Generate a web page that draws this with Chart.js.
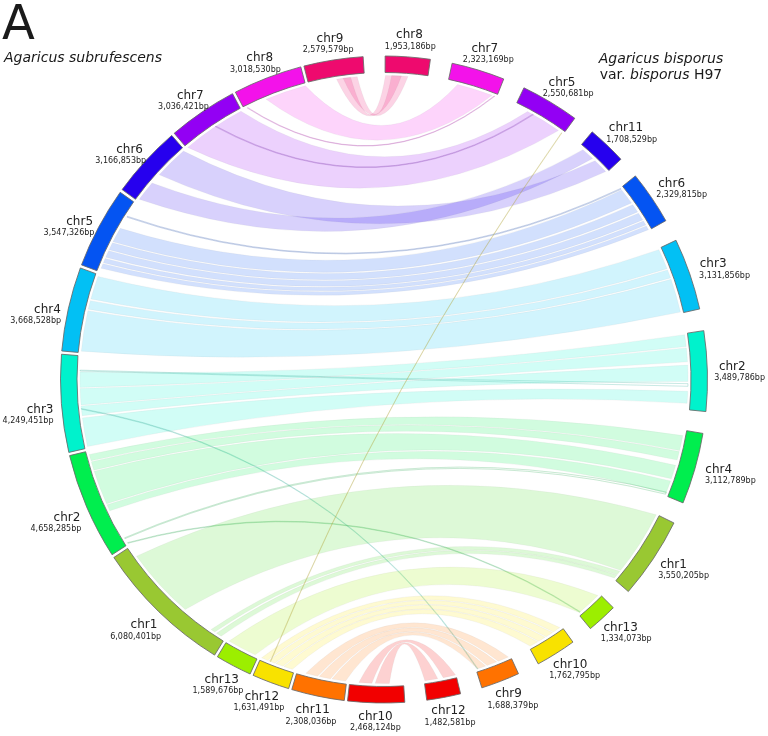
<!DOCTYPE html>
<html>
<head>
<meta charset="utf-8">
<script src="https://cdn.jsdelivr.net/npm/chart.js@4.4.1/dist/chart.umd.min.js"></script>
<style>
html,body{margin:0;padding:0;background:#fff;overflow:hidden;}
#wrap{position:relative;width:768px;height:736px;}
.t{position:absolute;font-family:'DejaVu Sans',sans-serif;color:#1a1a1a;white-space:nowrap;}
</style>
</head>
<body>
<div id="wrap">
<canvas id="c"></canvas>
<div class="t" style="left:2px;top:-2px;font-size:48px;line-height:48px;">A</div>
<div class="t" style="left:4px;top:50px;font-size:14px;line-height:14px;font-style:italic;">Agaricus subrufescens</div>
<div class="t" style="left:561px;top:50px;width:200px;text-align:center;font-size:14px;line-height:16px;"><i>Agaricus bisporus</i><br>var. <i>bisporus</i> H97</div>
</div>
<script>
// ---- Data ----
// Agaricus subrufescens chromosomes (clockwise order, bottom -> top on the left half)
const leftNames   = ['chr10','chr11','chr12','chr13','chr1','chr2','chr3','chr4','chr5','chr6','chr7','chr8','chr9'];
const leftLengths = [2468124,2308036,1631491,1589676,6080401,4658285,4249451,3668528,3547326,3166853,3036421,3018530,2579579];
// Agaricus bisporus var. bisporus H97 chromosomes (clockwise order, top -> bottom on the right half)
const rightNames   = ['chr8','chr7','chr5','chr11','chr6','chr3','chr2','chr4','chr1','chr13','chr10','chr9','chr12'];
const rightLengths = [1953186,2323169,2550681,1708529,2329815,3131856,3489786,3112789,3550205,1334073,1762795,1688379,1482581];
// Synteny links: [subrufescens chr, start Mb, end Mb, bisporus chr, start Mb, end Mb]
const links = [
  ['chr9',1.30,1.95,'chr8',0.02,0.75],
  ['chr9',1.60,2.25,'chr8',0.30,1.05],
  ['chr8',1.10,3.00,'chr7',0.45,2.10],
  ['chr8',0.15,0.18,'chr7',2.20,2.23],
  ['chr7',0.05,3.00,'chr5',0.62,2.28],
  ['chr7',1.63,1.67,'chr5',0.88,0.92],
  ['chr6',1.55,3.10,'chr11',0.95,1.65],
  ['chr6',0.10,1.05,'chr11',0.20,0.80],
  ['chr5',2.80,2.84,'chr6',0.02,0.06],
  ['chr5',1.50,2.20,'chr6',0.10,0.85],
  ['chr5',1.10,1.45,'chr6',0.95,1.35],
  ['chr5',0.72,1.05,'chr6',1.42,1.78],
  ['chr5',0.45,0.66,'chr6',1.84,2.05],
  ['chr5',0.17,0.40,'chr6',2.10,2.30],
  ['chr4',2.50,3.58,'chr3',0.05,1.00],
  ['chr4',2.02,2.42,'chr3',1.06,1.45],
  ['chr4',0.07,1.95,'chr3',1.52,3.08],
  ['chr3',2.80,3.50,'chr2',0.05,0.60],
  ['chr3',2.00,2.75,'chr2',0.66,1.30],
  ['chr3',1.50,1.95,'chr2',1.45,2.20],
  ['chr3',0.07,1.40,'chr2',2.65,3.20],
  ['chr3',3.55,3.59,'chr2',2.30,2.42],
  ['chr3',1.80,1.83,'chr9',1.60,1.63],
  ['chr2',4.20,4.50,'chr4',0.25,0.95],
  ['chr2',3.75,4.15,'chr4',1.00,1.40],
  ['chr2',2.10,3.70,'chr4',1.65,2.30],
  ['chr2',1.75,2.05,'chr4',2.40,3.00],
  ['chr2',0.30,0.34,'chr4',2.95,3.05],
  ['chr2',0.05,0.08,'chr13',1.20,1.23],
  ['chr1',2.25,5.56,'chr1',0.02,3.05],
  ['chr1',0.55,0.75,'chr1',3.10,3.30],
  ['chr1',0.20,0.45,'chr1',3.32,3.50],
  ['chr13',0.15,1.50,'chr13',0.10,1.25],
  ['chr12',1.30,1.60,'chr10',0.10,0.45],
  ['chr12',0.95,1.25,'chr10',0.50,0.85],
  ['chr12',0.55,0.90,'chr10',0.90,1.25],
  ['chr12',0.10,0.50,'chr10',1.30,1.70],
  ['chr12',1.15,1.17,'chr5',2.45,2.47],
  ['chr11',1.35,1.90,'chr9',0.10,0.60],
  ['chr11',0.75,1.28,'chr9',0.68,1.15],
  ['chr11',0.05,0.68,'chr9',1.22,1.62],
  ['chr10',1.45,2.05,'chr12',0.02,0.60],
  ['chr10',0.65,1.30,'chr12',0.85,1.45]
];

// ---- Styles / layout ----
const rightColors = ['#ee0a6e','#f312ea','#9300f4','#2600ee','#0454f2','#02c0f4','#00f2cc','#00ee4e','#99c832','#9cee00','#f8e200','#ff7200','#f20000'];
const leftColors = rightColors.slice().reverse();
// ribbon tint per A. subrufescens chromosome (same as ideogram except a greener tint for chr1)
const ribbonTint = {chr1:'#40dc20'};
const GAP_RIGHT = 949000, GAP_LEFT = 141000, GAP_END = 947000;

function rgba(hex, a){
  const n = parseInt(hex.slice(1),16);
  return 'rgba('+((n>>16)&255)+','+((n>>8)&255)+','+(n&255)+','+a+')';
}

// Build the doughnut slices from the arrays
const sliceValues = [], sliceColors = [], sliceBorderW = [], sliceInfo = [];
const idxR = {}, idxL = {};
rightNames.forEach((n,i)=>{
  if(i>0){ sliceValues.push(GAP_RIGHT); sliceColors.push('rgba(0,0,0,0)'); sliceBorderW.push(0); sliceInfo.push(null); }
  idxR[n] = sliceValues.length;
  sliceValues.push(rightLengths[i]); sliceColors.push(rightColors[i]); sliceBorderW.push(1);
  sliceInfo.push({name:n, len:rightLengths[i]});
});
sliceValues.push(GAP_END); sliceColors.push('rgba(0,0,0,0)'); sliceBorderW.push(0); sliceInfo.push(null);
leftNames.forEach((n,i)=>{
  if(i>0){ sliceValues.push(GAP_LEFT); sliceColors.push('rgba(0,0,0,0)'); sliceBorderW.push(0); sliceInfo.push(null); }
  idxL[n] = sliceValues.length;
  sliceValues.push(leftLengths[i]); sliceColors.push(leftColors[i]); sliceBorderW.push(1);
  sliceInfo.push({name:n, len:leftLengths[i]});
});
sliceValues.push(GAP_END); sliceColors.push('rgba(0,0,0,0)'); sliceBorderW.push(0); sliceInfo.push(null);

const ribbonPlugin = {
  id:'ribbons',
  beforeDatasetsDraw(chart){
    const arcs = chart.getDatasetMeta(0).data;
    const a0 = arcs[0];
    const cx = a0.x, cy = a0.y, rr = a0.innerRadius - 3;
    const ctx = chart.ctx;
    const angAt = (el, mb, len) => el.startAngle + (el.endAngle - el.startAngle) * (mb*1e6) / len;
    const ctrl = (a, b) => {
      let d = b - a;
      while(d > Math.PI) d -= 2*Math.PI;
      while(d < -Math.PI) d += 2*Math.PI;
      const mid = a + d/2, sep = Math.abs(d);
      const k = 0.75 * Math.pow(Math.cos(sep/2),2) * rr;
      return [cx + k*Math.cos(mid), cy + k*Math.sin(mid)];
    };
    ctx.save();
    links.forEach(l=>{
      const li = idxL[l[0]], ri = idxR[l[3]];
      const el = arcs[li], er = arcs[ri];
      const a1 = angAt(el, l[1], sliceInfo[li].len), a2 = angAt(el, l[2], sliceInfo[li].len);
      const b1 = angAt(er, l[4], sliceInfo[ri].len), b2 = angAt(er, l[5], sliceInfo[ri].len);
      const col = ribbonTint[l[0]] || leftColors[leftNames.indexOf(l[0])];
      const thin = (l[2]-l[1]) < 0.1 && (l[5]-l[4]) < 0.15;
      ctx.beginPath();
      ctx.arc(cx, cy, rr, a1, a2);
      let c = ctrl(a2, b1);
      ctx.quadraticCurveTo(c[0], c[1], cx + rr*Math.cos(b1), cy + rr*Math.sin(b1));
      ctx.arc(cx, cy, rr, b1, b2);
      c = ctrl(b2, a1);
      ctx.quadraticCurveTo(c[0], c[1], cx + rr*Math.cos(a1), cy + rr*Math.sin(a1));
      ctx.closePath();
      if(thin){
        ctx.lineWidth = 0.8;
        ctx.strokeStyle = rgba(col, 0.2);
        ctx.stroke();
        ctx.strokeStyle = 'rgba(110,110,110,0.18)';
        ctx.stroke();
      } else {
        ctx.fillStyle = rgba(col, 0.18);
        ctx.fill();
        ctx.lineWidth = 0.8;
        ctx.strokeStyle = 'rgba(150,150,150,0.1)';
        ctx.stroke();
      }
    });
    ctx.restore();
  }
};

const labelPlugin = {
  id:'chrLabels',
  afterDatasetsDraw(chart){
    const arcs = chart.getDatasetMeta(0).data;
    const ctx = chart.ctx;
    ctx.save();
    ctx.textAlign = 'center';
    ctx.textBaseline = 'middle';
    ctx.fillStyle = '#222';
    arcs.forEach((el,i)=>{
      const info = sliceInfo[i];
      if(!info) return;
      const mid = (el.startAngle + el.endAngle)/2;
      const ux = Math.cos(mid), uy = Math.sin(mid);
      const ar = el.outerRadius + 6;
      const ax = el.x + ar*ux, ay = el.y + ar*uy;
      let bcy = ay + uy*12;
      let extra = 2;
      if(ux < 0) bcy += 9*ux*ux; else extra = 2 + 3.5*ux;
      const t1 = info.name, t2 = info.len.toLocaleString('en-US') + 'bp';
      ctx.font = "12px 'DejaVu Sans'";
      const w1 = ctx.measureText(t1).width;
      ctx.fillText(t1, ax + ux*(w1/2 + extra), bcy - 4);
      ctx.font = "8px 'DejaVu Sans'";
      const w2 = ctx.measureText(t2).width;
      ctx.fillText(t2, Math.min(ax + ux*(w2/2 + extra), 765 - w2/2), bcy + 7.5);
    });
    ctx.restore();
  }
};

Chart.defaults.font.family = "'DejaVu Sans', sans-serif";
new Chart(document.getElementById('c'), {
  type:'doughnut',
  data:{
    labels: sliceInfo.map(s => s ? s.name : ''),
    datasets:[{
      data: sliceValues,
      backgroundColor: sliceColors,
      borderColor: 'rgba(105,105,105,0.85)',
      borderWidth: sliceBorderW,
      borderJoinStyle: 'miter',
      hoverOffset: 0
    }]
  },
  options:{
    responsive:true,
    maintainAspectRatio:false,
    animation:false,
    events:[],
    rotation:0.2,
    radius:323.5,
    cutout:'94.9%',
    layout:{padding:{top:56,bottom:33,left:0,right:0}},
    plugins:{legend:{display:false}, tooltip:{enabled:false}}
  },
  plugins:[ribbonPlugin, labelPlugin]
});
</script>
</body>
</html>
